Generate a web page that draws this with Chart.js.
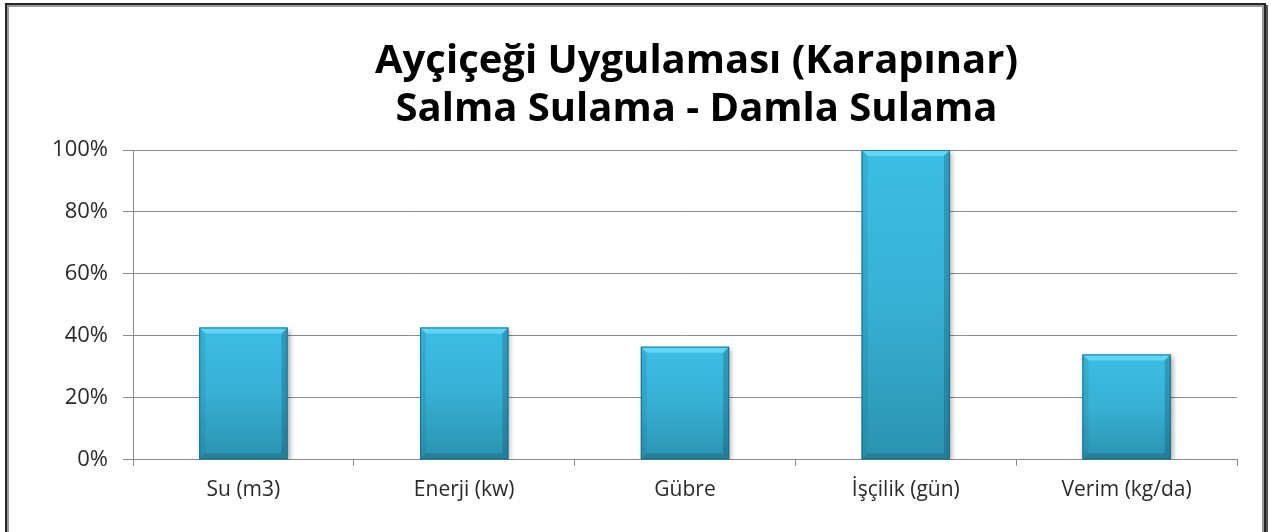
<!DOCTYPE html>
<html>
<head>
<meta charset="utf-8">
<script src="https://cdn.jsdelivr.net/npm/chart.js@4"></script>
<style>
  html, body { margin: 0; padding: 0; background: #fff; }
  #wrap { position: relative; width: 1271px; height: 532px; overflow: hidden; }
  #frame {
    position: absolute; left: 5px; top: 3px; width: 1257px; height: 540px;
    border: 2px solid #262626; box-shadow: inset 0 0 0 2px #9a9a9a, 2px 2px 0 #555;
  }
  canvas { position: absolute; left: 0; top: 0; }
</style>
</head>
<body>
<div id="wrap">
  <div id="frame"></div>
  <canvas id="barChart" width="1271" height="532"></canvas>
</div>
<script>
const titleLines = ["Ayçiçeği Uygulaması (Karapınar)", "Salma Sulama - Damla Sulama"];
const categories = ["Su (m3)", "Enerji (kw)", "Gübre", "İşçilik (gün)", "Verim (kg/da)"];
const values = [42.7, 42.7, 36.5, 100, 34];
const yTicks = [0, 20, 40, 60, 80, 100];

const fontFamily = "'Open Sans', sans-serif";

// the title sits a bit right of the canvas centre in the original
const shiftTitle = {
  id: "shiftTitle",
  afterLayout(chart) {
    const t = chart.titleBlock;
    if (t) { t.left += 68; t.right += 68; }
  },
};

// shadow + per-bar gradient + bevel, drawn over the library's bar elements
const bevelBars = {
  id: "bevelBars",
  beforeDatasetsDraw(chart) {
    const ctx = chart.ctx;
    ctx.save();
    ctx.shadowColor = "rgba(0,0,0,0.35)";
    ctx.shadowBlur = 5;
    ctx.shadowOffsetX = 2;
    ctx.shadowOffsetY = 2;
  },
  afterDatasetsDraw(chart) {
    const ctx = chart.ctx;
    ctx.restore();
    const b = 6;
    chart.getDatasetMeta(0).data.forEach((bar) => {
      const l = bar.x - bar.width / 2, r = bar.x + bar.width / 2;
      const t = bar.y, btm = bar.base;
      const poly = (pts, color) => {
        ctx.beginPath();
        ctx.moveTo(pts[0][0], pts[0][1]);
        pts.slice(1).forEach((p) => ctx.lineTo(p[0], p[1]));
        ctx.closePath();
        ctx.fillStyle = color;
        ctx.fill();
      };
      ctx.save();
      const g = ctx.createLinearGradient(0, t, 0, btm);
      g.addColorStop(0, "#3dbee4");
      g.addColorStop(0.5, "#37b0d4");
      g.addColorStop(1, "#2b93b0");
      ctx.fillStyle = g;
      ctx.fillRect(l, t, bar.width, btm - t);
      poly([[l, t], [r, t], [r - b, t + b], [l + b, t + b]], "rgba(110,225,255,0.7)");
      poly([[l, t], [l + b, t + b], [l + b, btm - b], [l, btm]], "rgba(20,110,140,0.18)");
      poly([[r, t], [r, btm], [r - b, btm - b], [r - b, t + b]], "rgba(10,70,90,0.28)");
      poly([[l, btm], [l + b, btm - b], [r - b, btm - b], [r, btm]], "rgba(10,70,90,0.25)");
      ctx.strokeStyle = "rgba(25,100,125,0.8)";
      ctx.lineWidth = 1;
      ctx.strokeRect(l + 0.5, t + 0.5, bar.width - 1, btm - t - 1);
      ctx.restore();
    });
  },
};

const ctx = document.getElementById("barChart").getContext("2d");

new Chart(ctx, {
  type: "bar",
  data: {
    labels: categories,
    datasets: [
      {
        data: values,
        backgroundColor: "#36aed2",
        borderWidth: 0,
        barPercentage: 0.4,
        categoryPercentage: 1.0,
      },
    ],
  },
  options: {
    responsive: false,
    animation: false,
    layout: { padding: { left: 20, right: 34, top: 0, bottom: 17 } },
    plugins: {
      legend: { display: false },
      tooltip: { enabled: false },
      title: {
        display: true,
        text: titleLines,
        color: "#000",
        font: { family: fontFamily, size: 40, weight: "bold", lineHeight: 1.2 },
        padding: { top: 38, bottom: 16 },
      },
    },
    scales: {
      x: {
        grid: {
          offset: true,
          drawOnChartArea: false,
          drawTicks: true,
          tickLength: 6,
          color: "#8a8a8a",
        },
        border: { color: "#8a8a8a" },
        ticks: {
          color: "#2a2a2a",
          padding: 12,
          font: { family: fontFamily, size: 21 },
        },
      },
      y: {
        min: 0,
        max: 100,
        afterFit: (s) => { s.width = 113; },
        afterBuildTicks: (s) => { s.ticks = yTicks.map((v) => ({ value: v })); },
        grid: { color: "#8a8a8a", tickLength: 10 },
        border: { color: "#8a8a8a" },
        ticks: {
          color: "#2a2a2a",
          padding: 15,
          font: { family: fontFamily, size: 22 },
          callback: (v) => v + "%",
        },
      },
    },
  },
  plugins: [bevelBars, shiftTitle],
});
</script>
</body>
</html>
